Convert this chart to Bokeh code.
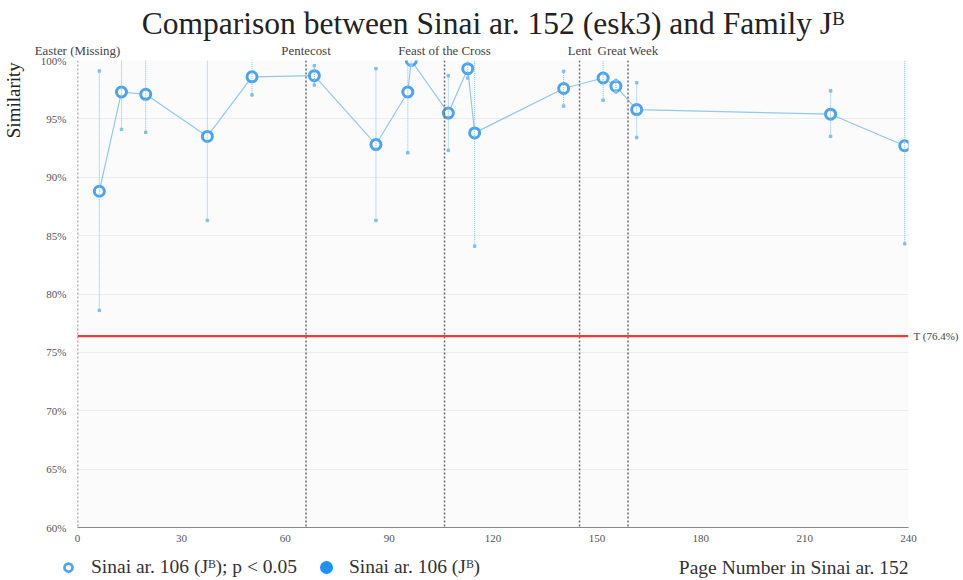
from bokeh.plotting import figure
from bokeh.models import (ColumnDataSource, Span, Label, Legend, LegendItem, Title,
                          FixedTicker, PrintfTickFormatter, Range1d, LinearAxis)
from bokeh.embed import file_html
from bokeh.resources import INLINE

# ---------------- data ----------------
title_text = "Comparison between Sinai ar. 152 (esk3) and Family J\u1d2e"
x_label = "Page Number in Sinai ar. 152"
y_label = "Similarity"

pages = [6.3, 12.7, 19.7, 37.5, 50.4, 68.4, 86.2, 95.4, 96.4, 107.1, 112.7,
         114.7, 140.4, 151.8, 155.5, 161.5, 217.5, 238.9]
similarity = [88.8, 97.3, 97.1, 93.5, 98.6, 98.7, 92.8, 97.3, 100.0, 95.5, 99.3,
              93.8, 97.6, 98.5, 97.8, 95.8, 95.4, 92.7]
lower = [78.6, 94.1, 93.85, 86.3, 97.05, 97.9, 86.3, 92.1, 99.6, 92.3, 98.5,
         84.1, 96.1, 96.6, 97.3, 93.4, 93.5, 84.3]
upper = [99.1, 100.5, 100.5, 100.5, 100.5, 99.55, 99.3, 100.5, 100.5, 98.7, 100.3,
         100.5, 99.07, 100.5, 98.3, 98.1, 97.4, 100.5]

nonsig_pages = []
nonsig_similarity = []

event_pages = [0, 66, 106, 145, 159]
event_names = ["Easter (Missing)", "Pentecost", "Feast of the Cross", "Lent", "Great Week"]

threshold = 76.4
threshold_label = "T (76.4%)"

x_ticks = [0, 30, 60, 90, 120, 150, 180, 210, 240]
y_ticks = [60, 65, 70, 75, 80, 85, 90, 95, 100]
y_label_pos = 96.6   # where the rotated "Similarity" text sits along the y axis

series_sig = "Sinai ar. 106 (J\u1d2e); p < 0.05"
series_nonsig = "Sinai ar. 106 (J\u1d2e)"

# ---------------- styles ----------------
FONT = "Liberation Serif"
RING = "#4aa3f5"
LINE = "#90c8f7"
ERR = "#7fbff7"
FILLED = "#1e90ff"
W = 963

p = figure(width=W, height=550,
           x_range=Range1d(x_ticks[0], x_ticks[-1]),
           y_range=Range1d(y_ticks[0], y_ticks[-1]),
           output_backend="svg", toolbar_location=None,
           min_border_left=75, min_border_right=55,
           min_border_top=60, min_border_bottom=23)

p.background_fill_color = "#fbfbfb"
p.border_fill_color = "white"
p.outline_line_color = None
p.xgrid.grid_line_color = None
p.ygrid.grid_line_color = "#ececec"

p.xaxis.ticker = FixedTicker(ticks=x_ticks)
p.yaxis.ticker = FixedTicker(ticks=y_ticks)
p.yaxis.formatter = PrintfTickFormatter(format="%d%%")


def plain(ax, size="11px", color="#555555", standoff=5):
    ax.major_label_text_font = FONT
    ax.major_label_text_font_size = size
    ax.major_label_text_color = color
    ax.major_tick_line_color = None
    ax.minor_tick_line_color = None
    ax.major_tick_out = 0
    ax.major_tick_in = 0
    ax.minor_tick_out = 0
    ax.minor_tick_in = 0
    ax.major_label_standoff = standoff


plain(p.xaxis[0], standoff=7)
plain(p.yaxis[0], standoff=11)
p.yaxis.axis_line_color = None
p.xaxis.axis_line_color = "#888888"

# rotated y label as an extra left axis
ylab_axis = LinearAxis(ticker=FixedTicker(ticks=[y_label_pos]),
                       major_label_overrides={y_label_pos: y_label},
                       major_label_orientation="vertical", axis_line_color=None)
plain(ylab_axis, size="19px", color="#222222", standoff=13)
p.add_layout(ylab_axis, "left")

# event names as a top axis
ev_axis = LinearAxis(ticker=FixedTicker(ticks=event_pages),
                     major_label_overrides=dict(zip(event_pages, event_names)),
                     axis_line_color=None)
plain(ev_axis, size="12.9px", color="#444444", standoff=3)
p.add_layout(ev_axis, "above")

# threshold label as a right axis
thr_axis = LinearAxis(ticker=FixedTicker(ticks=[threshold]),
                      major_label_overrides={threshold: threshold_label},
                      axis_line_color=None)
plain(thr_axis, size="11px", color="#444444", standoff=5)
p.add_layout(thr_axis, "right")

p.add_layout(Title(text=title_text, align="center", text_font=FONT,
                   text_font_size="31.5px", text_font_style="normal",
                   text_color="#222222", standoff=0), "above")

# event lines
for ep in event_pages:
    p.add_layout(Span(location=ep, dimension="height", line_color="#6e6e6e",
                      line_dash="2 2", line_width=1.5))

# threshold
p.add_layout(Span(location=threshold, dimension="width", line_color="#f23a3a",
                  line_width=2.2))

src = ColumnDataSource(dict(x=pages, y=similarity, lo=lower, hi=upper))

p.line("x", "y", source=src, line_color=LINE, line_width=1.2)
p.scatter("x", "y", source=src, marker="circle", size=10,
          fill_color="white", line_color=RING, line_width=3)
p.segment(x0="x", y0="lo", x1="x", y1="hi", source=src, line_color=ERR,
          line_dash="1 1", line_width=1)
p.scatter("x", "lo", source=src, marker="square", size=2.5, color=ERR)
p.scatter("x", "hi", source=src, marker="square", size=2.5, color=ERR)
p.scatter(nonsig_pages, nonsig_similarity, marker="circle", size=10,
          fill_color=FILLED, line_color=FILLED, line_width=2.75)

# ---------------- legend row (separate root, below the chart) ----------------
q = figure(width=W, height=30, x_range=Range1d(0, 1), y_range=Range1d(0, 1),
           output_backend="svg", toolbar_location=None,
           x_axis_type=None, y_axis_type=None, min_border=0)
q.outline_line_color = None
q.background_fill_color = "white"
q.border_fill_color = "white"
q.xgrid.visible = False
q.ygrid.visible = False

# legend proxies: same series data, which lies outside this strip's 0..1 view
lg_sig = q.scatter("x", "y", source=src, marker="circle", size=10,
                   fill_color="white", line_color=RING, line_width=2.75)
lg_non = q.scatter("x", "y", source=src, marker="circle", size=10,
                   fill_color=FILLED, line_color=FILLED, line_width=5)

legend = Legend(items=[LegendItem(label=series_sig, renderers=[lg_sig]),
                       LegendItem(label=series_nonsig, renderers=[lg_non])],
                orientation="horizontal", location=(58, 2),
                label_text_font=FONT, label_text_font_size="19.5px",
                label_text_color="#333333", label_standoff=13, spacing=19,
                padding=0, margin=0, glyph_width=20, glyph_height=20,
                background_fill_alpha=0, border_line_color=None)
q.add_layout(legend)
q.add_layout(Label(x=908, y=13, x_units="screen", y_units="screen", text=x_label,
                   text_align="right", text_baseline="middle",
                   text_font=FONT, text_font_size="19.5px", text_color="#333333"))

open("out.html", "w").write(file_html([p, q], INLINE))
